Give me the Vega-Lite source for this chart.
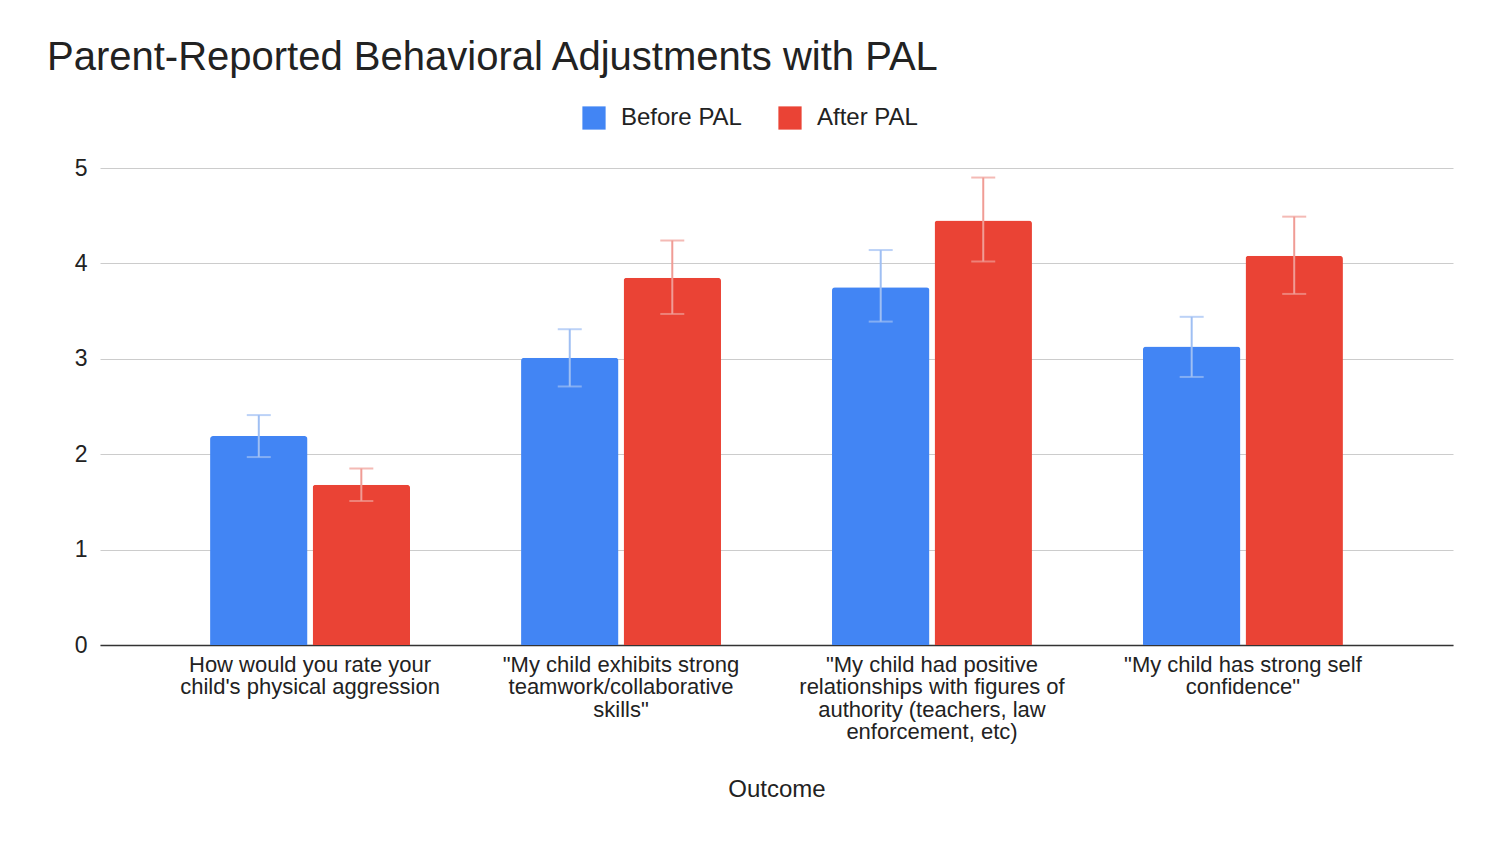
{
  "$schema": "https://vega.github.io/schema/vega-lite/v6.json",
  "autosize": {"type": "none"},
  "width": 1353,
  "height": 477,
  "padding": {"left": 100, "top": 168, "right": 47, "bottom": 198},
  "background": "white",
  "title": {
    "text": "Parent-Reported Behavioral Adjustments with PAL",
    "anchor": "start",
    "frame": "group",
    "dx": -53,
    "fontSize": 40,
    "font": "Liberation Sans",
    "fontWeight": "normal",
    "color": "#222222",
    "offset": 28
  },
  "data": {
    "values": [
      {"outcome": "How would you rate your\nchild's physical aggression", "period": "Before PAL", "mean": 2.19, "low": 1.97, "high": 2.41},
      {"outcome": "How would you rate your\nchild's physical aggression", "period": "After PAL", "mean": 1.68, "low": 1.51, "high": 1.85},
      {"outcome": "\"My child exhibits strong\nteamwork/collaborative\nskills\"", "period": "Before PAL", "mean": 3.01, "low": 2.71, "high": 3.31},
      {"outcome": "\"My child exhibits strong\nteamwork/collaborative\nskills\"", "period": "After PAL", "mean": 3.85, "low": 3.47, "high": 4.24},
      {"outcome": "\"My child had positive\nrelationships with figures of\nauthority (teachers, law\nenforcement, etc)", "period": "Before PAL", "mean": 3.75, "low": 3.39, "high": 4.14},
      {"outcome": "\"My child had positive\nrelationships with figures of\nauthority (teachers, law\nenforcement, etc)", "period": "After PAL", "mean": 4.45, "low": 4.02, "high": 4.9},
      {"outcome": "\"My child has strong self\nconfidence\"", "period": "Before PAL", "mean": 3.13, "low": 2.81, "high": 3.44},
      {"outcome": "\"My child has strong self\nconfidence\"", "period": "After PAL", "mean": 4.08, "low": 3.68, "high": 4.49}
    ]
  },
  "encoding": {
    "x": {
      "field": "outcome",
      "type": "nominal",
      "sort": null,
      "title": "Outcome",
      "scale": {"paddingInner": 0.357, "paddingOuter": 0.354},
      "axis": {
        "labelAngle": 0,
        "labelExpr": "split(datum.label, '\\n')",
        "labelFontSize": 22,
        "labelFont": "Liberation Sans",
        "labelColor": "#222222",
        "labelLineHeight": 22.5,
        "labelPadding": 9,
        "labelLimit": 400,
        "ticks": false,
        "domainColor": "#333333",
        "domainWidth": 1.5,
        "titleFontSize": 24,
        "titleFont": "Liberation Sans",
        "titleFontWeight": "normal",
        "titleColor": "#222222",
        "titlePadding": 35
      }
    },
    "xOffset": {
      "field": "period",
      "type": "nominal",
      "sort": ["Before PAL", "After PAL"],
      "scale": {"paddingInner": 0.05, "paddingOuter": 0}
    }
  },
  "layer": [
    {
      "mark": {"type": "bar", "cornerRadiusTopLeft": 3, "cornerRadiusTopRight": 3},
      "encoding": {
        "y": {
          "field": "mean",
          "type": "quantitative",
          "title": null,
          "scale": {"domain": [0, 5]},
          "axis": {
            "values": [0, 1, 2, 3, 4, 5],
            "format": "d",
            "labelFontSize": 23,
            "labelFont": "Liberation Sans",
            "labelColor": "#222222",
            "labelPadding": 13,
            "ticks": false,
            "domain": false,
            "gridColor": "#cccccc",
            "gridWidth": 1
          }
        },
        "color": {
          "field": "period",
          "type": "nominal",
          "scale": {"domain": ["Before PAL", "After PAL"], "range": ["#4285f4", "#ea4335"]},
          "legend": {
            "title": null,
            "orient": "none",
            "direction": "horizontal",
            "legendX": 482,
            "legendY": -62,
            "symbolType": "square",
            "symbolSize": 540,
            "symbolStrokeWidth": 0,
            "symbolOpacity": 1,
            "labelFontSize": 24,
            "labelFont": "Liberation Sans",
            "labelColor": "#222222",
            "labelOffset": 15,
            "columnPadding": 36
          }
        }
      }
    },
    {
      "mark": {"type": "rule", "strokeWidth": 2},
      "encoding": {
        "y": {"field": "low", "type": "quantitative"},
        "y2": {"field": "high"},
        "color": {"condition": {"test": "datum.period === 'Before PAL'", "value": "#9fbff3"}, "value": "#f09c95"}
      }
    },
    {
      "mark": {"type": "tick", "size": 24, "thickness": 2, "orient": "horizontal"},
      "encoding": {
        "y": {"field": "low", "type": "quantitative"},
        "color": {"condition": {"test": "datum.period === 'Before PAL'", "value": "#9fbff3"}, "value": "#f09c95"}
      }
    },
    {
      "mark": {"type": "tick", "size": 24, "thickness": 2, "orient": "horizontal"},
      "encoding": {
        "y": {"field": "high", "type": "quantitative"},
        "color": {"condition": {"test": "datum.period === 'Before PAL'", "value": "#9fbff3"}, "value": "#f09c95"}
      }
    }
  ],
  "config": {
    "view": {"stroke": null},
    "axisY": {"zindex": 0}
  }
}
